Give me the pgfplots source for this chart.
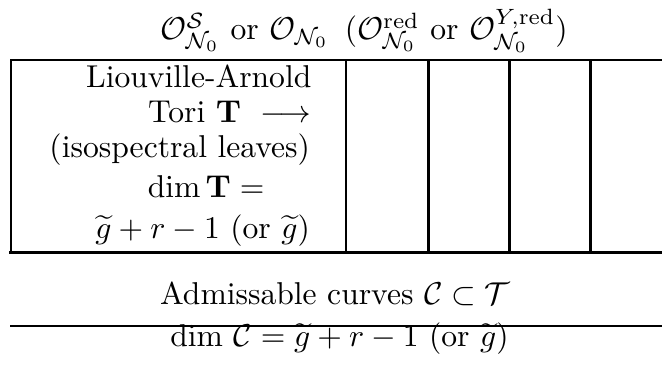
\documentclass[border=0pt]{standalone}
\usepackage{pgfplots}
\pgfplotsset{compat=1.18}
\usepackage{amsmath}
\begin{document}
\begin{tikzpicture}
\begin{axis}[name=ax, scale only axis, width=209.5pt, height=116.1pt,
  xmin=0, xmax=662, ymin=0, ymax=367, y dir=reverse,
  hide axis, clip=false,
  every axis plot/.append style={black, line cap=rect, mark=none}]
% outer box
\addplot[line width=0.75pt] coordinates {(11,59.9) (670,59.9)};
\addplot[line width=1.0pt] coordinates {(11,252.5) (670,252.5)};
\addplot[line width=0.75pt] coordinates {(11,59.9) (11,252.5)};
% dividers
\addplot[line width=0.65pt, line cap=butt] coordinates {(346,59.9) (346,252.5)};
\addplot[line width=0.65pt, line cap=butt] coordinates {(428.5,59.9) (428.5,252.5)};
\addplot[line width=0.65pt, line cap=butt] coordinates {(509.5,59.9) (509.5,252.5)};
\addplot[line width=0.95pt, line cap=butt] coordinates {(590.5,59.9) (590.5,252.5)};
% fraction-like rule
\addplot[line width=0.7pt] coordinates {(11,326) (670,326)};
% title
\node[anchor=base, inner sep=0pt] at (axis cs:364,40)
  {$\mathcal{O}^{\mathcal{S}}_{\mathcal{N}_0}$ or $\mathcal{O}_{\mathcal{N}_0}$ \,($\mathcal{O}^{\mathrm{red}}_{\mathcal{N}_0}$ or $\mathcal{O}^{Y,\mathrm{red}}_{\mathcal{N}_0}$)};
% left cell
\node[anchor=base east, inner sep=0pt] at (axis cs:312,88) {Liouville-Arnold};
\node[anchor=base east, inner sep=0pt] at (axis cs:312,123) {Tori $\mathbf{T}\ \longrightarrow$};
\node[anchor=base east, inner sep=0pt] at (axis cs:310.5,158) {(isospectral leaves)};
\node[anchor=base east, inner sep=0pt] at (axis cs:265,198) {$\dim\mathbf{T} =$};
\node[anchor=base east, inner sep=0pt] at (axis cs:310.5,239) {$\widetilde{g}+r-1$ (or $\widetilde{g}$)};
% bottom
\node[anchor=base, inner sep=0pt] at (axis cs:335,305) {Admissable curves $\mathcal{C}\subset\mathcal{T}$};
\node[anchor=base, inner sep=0pt] at (axis cs:339.5,347) {$\dim\,\mathcal{C}=\widetilde{g}+r-1$ (or $\widetilde{g}$)};
\end{axis}
\pgfresetboundingbox
\path[use as bounding box] (ax.south west) rectangle (ax.north east);
\end{tikzpicture}
\end{document}
